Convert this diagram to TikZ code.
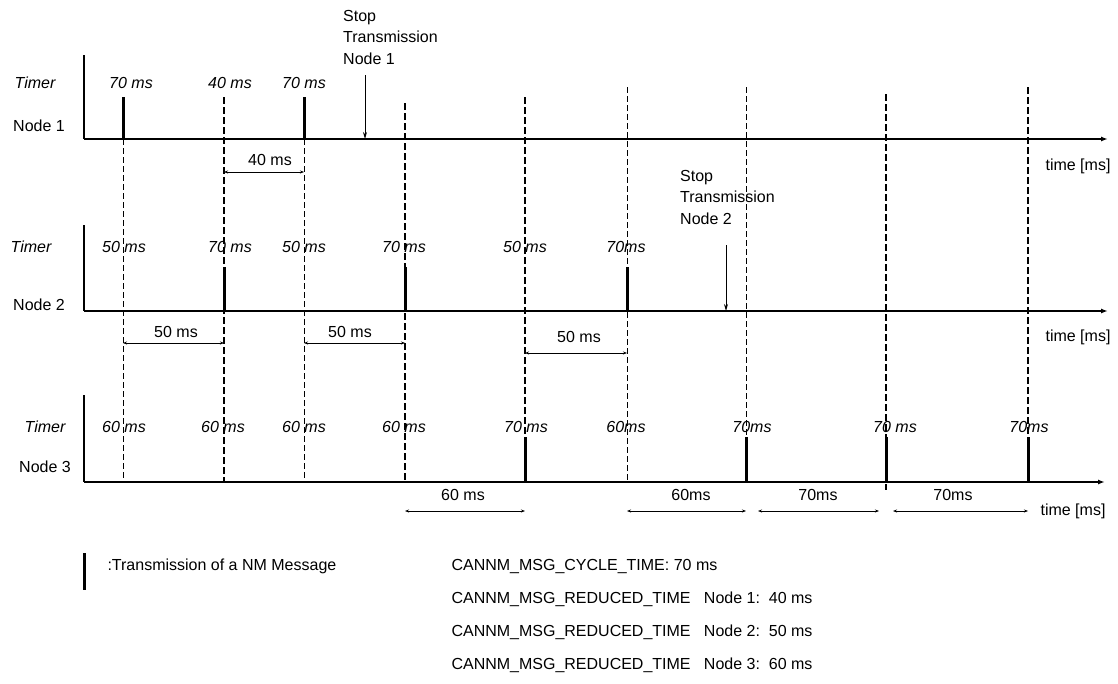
\documentclass[tikz,border=0pt]{standalone}
\usepackage{fontspec}
\setmainfont{Liberation Sans}
\usepackage{tikz}
\usetikzlibrary{arrows.meta}

\begin{document}
\begin{tikzpicture}[x=1pt,y=-1pt,font=\fontsize{16}{18}\selectfont,
  base/.style={line width=1.4pt},
  axis/.style={base, -{Latex[length=7pt,width=5pt]}},
  thin/.style={line width=0.9pt, dash pattern=on 6pt off 3pt},
  fat/.style={line width=2.6pt, dash pattern=on 7pt off 3pt},
  tx/.style={line width=3pt},
  span/.style={line width=0.8pt, {Stealth[length=4pt,width=3pt]}-{Stealth[length=4pt,width=3pt]}},
  stoparrow/.style={line width=0.9pt, -{Stealth[length=7pt,width=4pt]}},
  tmr/.style={font=\fontsize{16}{18}\selectfont\itshape},
  stoplbl/.style={anchor=north west, align=left, inner sep=0pt,
    font=\fontsize{16}{21.5}\selectfont}]
\useasboundingbox (0,0) rectangle (1118,683);
% time instants
\foreach \n/\x in {a/123,b/224,c/304,d/405,e/525,f/627,g/746,h/886,k/1028}{
  \coordinate (\n) at (\x,0);
}
% the three node axes
\foreach \r/\y/\t/\e in {1/139/55/1108,2/311/225/1108,3/482/395/1105}{
  \coordinate (o\r) at (84,\y);
  \coordinate (u\r) at (84,\t);
  \coordinate (e\r) at (\e,\y);
  \draw[base] (u\r) -- (o\r);
  \draw[axis] (o\r) -- (e\r);
}
% marker lines through all rows
\foreach \n/\t in {a/139,c/139,f/87,g/87}{
  \draw[thin] (\n |- 0,\t) -- (\n |- o3);
}
\foreach \n/\t/\b in {b/97/482,d/103/482,e/97/482,h/94/490,k/87/482}{
  \draw[fat] (\n |- 0,\t) -- (\n |- 0,\b);
}
% NM messages
\foreach \n/\r/\t in {a/1/97,c/1/97,b/2/267,d/2/267,f/2/267,e/3/437,g/3/437,h/3/437,k/3/437}{
  \draw[tx] (\n |- 0,\t) -- (\n |- o\r);
}
% row labels
\node[tmr] (tm1) at (35,83)  {Timer};
\node      (nd1) at (39,126) {Node 1};
\node[tmr] (tm2) at (31,247) {Timer};
\node      (nd2) at (39,305) {Node 2};
\node[tmr] (tm3) at (45,427) {Timer};
\node      (nd3) at (45,467) {Node 3};
% timer values
\foreach \i/\x/\v in {1/131/70 ms,2/230/40 ms,3/304/70 ms}{
  \node[tmr] (va\i) at (\x,83) {\v};
}
\foreach \i/\x/\v in {1/124/50 ms,2/230/70 ms,3/304/50 ms,4/404/70 ms,5/525/50 ms,6/626/70ms}{
  \node[tmr] (vb\i) at (\x,247) {\v};
}
\foreach \i/\x/\v in {1/124/60 ms,2/223/60 ms,3/304/60 ms,4/404/60 ms,5/526/70 ms,
  6/626/60ms,7/752/70ms,8/895/70 ms,9/1029/70ms}{
  \node[tmr] (vc\i) at (\x,427) {\v};
}
% stop transmission
\node[stoplbl] (st1) at (343,10) {Stop\\Transmission\\Node 1};
\coordinate (s1) at (365,75);
\draw[stoparrow] (s1) -- (s1 |- o1);
\node[stoplbl] (st2) at (680,170) {Stop\\Transmission\\Node 2};
\coordinate (s2) at (726,245);
\draw[stoparrow] (s2) -- (s2 |- o2);
% time spans
\draw[span] (b |- 0,172) -- (c |- 0,172);
\node (ia1) at (270,160) {40 ms};
\draw[span] (a |- 0,343) -- (b |- 0,343);
\node (ib1) at (176,332) {50 ms};
\draw[span] (c |- 0,343) -- (d |- 0,343);
\node (ib2) at (350,332) {50 ms};
\draw[span] (e |- 0,353) -- (f |- 0,353);
\node (ib3) at (579,337) {50 ms};
\draw[span] (d |- 0,511) -- (e |- 0,511);
\node (ic1) at (463,495) {60 ms};
\draw[span] (f |- 0,511) -- (g |- 0,511);
\node (ic2) at (691,495) {60ms};
\draw[span] ([xshift=12pt]g |- 0,511) -- ([xshift=-7pt]h |- 0,511);
\node (ic3) at (818,495) {70ms};
\draw[span] ([xshift=7pt]h |- 0,511) -- (k |- 0,511);
\node (ic4) at (953,495) {70ms};
% axis captions
\node (ta1) at (1078,166) {time [ms]};
\node (ta2) at (1078,337) {time [ms]};
\node (ta3) at (1073,511) {time [ms]};
% legend
\coordinate (l1) at (84,553);
\draw[tx] (l1) -- (84,590);
\node[anchor=west] (lg) at (104,566) {:Transmission of a NM Message};
\foreach \i/\y/\t in {1/566/CANNM\_MSG\_CYCLE\_TIME: 70 ms,
  2/599/CANNM\_MSG\_REDUCED\_TIME\ \ \ Node 1:\ \ 40 ms,
  3/632/CANNM\_MSG\_REDUCED\_TIME\ \ \ Node 2:\ \ 50 ms,
  4/665/CANNM\_MSG\_REDUCED\_TIME\ \ \ Node 3:\ \ 60 ms}{
  \node[anchor=west] (cf\i) at (448,\y) {\t};
}
\end{tikzpicture}
\end{document}
